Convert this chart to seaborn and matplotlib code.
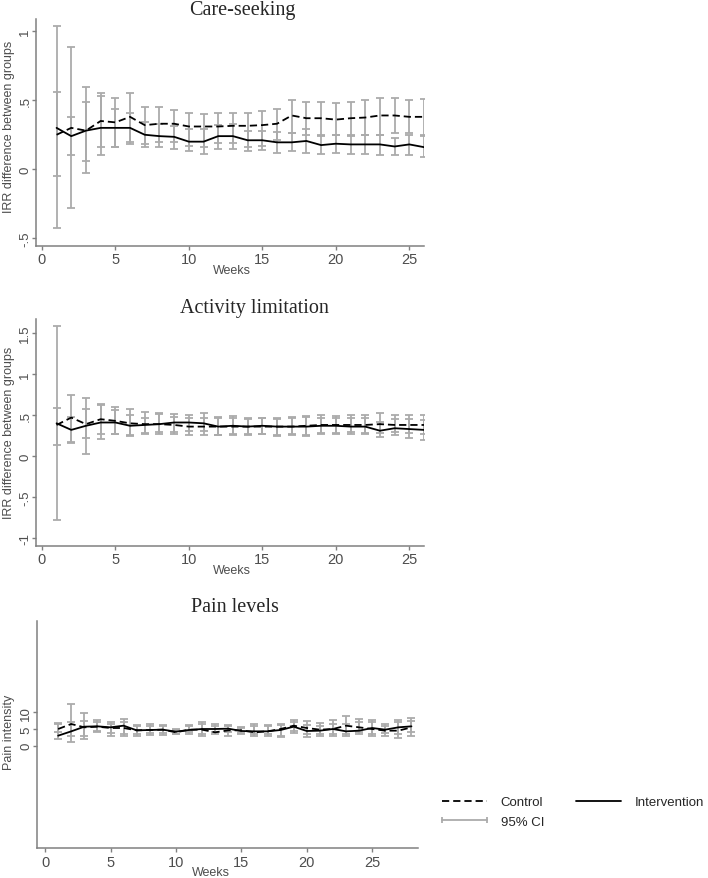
import numpy as np
import pandas as pd
import matplotlib
matplotlib.use("Agg")
import matplotlib.pyplot as plt
import seaborn as sns
from matplotlib.lines import Line2D

# ---------------- data ----------------
weeks26 = list(range(1, 27))
weeks28 = list(range(1, 29))

# Care-seeking
care_ctrl = [0.25, 0.30, 0.28, 0.35, 0.34, 0.38, 0.32, 0.33, 0.33, 0.31, 0.31, 0.31, 0.315,
             0.315, 0.32, 0.33, 0.39, 0.37, 0.37, 0.36, 0.37, 0.375, 0.39, 0.39, 0.38, 0.38]
care_ctrl_lo = [-0.43, -0.28, -0.03, 0.16, 0.16, 0.20, 0.18, 0.20, 0.20, 0.17, 0.16, 0.19, 0.19,
                0.16, 0.17, 0.21, 0.26, 0.25, 0.25, 0.25, 0.25, 0.25, 0.25, 0.26, 0.26, 0.25]
care_ctrl_hi = [1.04, 0.89, 0.60, 0.55, 0.52, 0.55, 0.45, 0.45, 0.43, 0.41, 0.40, 0.41, 0.41,
                0.41, 0.42, 0.44, 0.50, 0.49, 0.49, 0.48, 0.49, 0.50, 0.52, 0.52, 0.50, 0.51]
care_int = [0.30, 0.24, 0.28, 0.30, 0.30, 0.30, 0.25, 0.24, 0.235, 0.20, 0.20, 0.24, 0.24,
            0.21, 0.21, 0.195, 0.195, 0.205, 0.175, 0.185, 0.18, 0.18, 0.18, 0.165, 0.18, 0.16]
care_int_lo = [-0.05, 0.10, 0.06, 0.10, 0.16, 0.18, 0.16, 0.16, 0.15, 0.13, 0.11, 0.15, 0.15,
               0.13, 0.14, 0.12, 0.13, 0.12, 0.11, 0.12, 0.11, 0.11, 0.10, 0.10, 0.10, 0.09]
care_int_hi = [0.56, 0.38, 0.49, 0.53, 0.44, 0.41, 0.34, 0.33, 0.31, 0.29, 0.29, 0.32, 0.33,
               0.28, 0.28, 0.27, 0.26, 0.29, 0.24, 0.25, 0.24, 0.25, 0.25, 0.23, 0.25, 0.24]

# Activity limitation
act_ctrl = [0.38, 0.47, 0.39, 0.45, 0.43, 0.40, 0.39, 0.39, 0.38, 0.36, 0.36, 0.36, 0.36,
            0.36, 0.36, 0.36, 0.36, 0.37, 0.38, 0.38, 0.38, 0.38, 0.39, 0.38, 0.38, 0.38]
act_ctrl_lo = [-0.78, 0.17, 0.03, 0.21, 0.27, 0.25, 0.27, 0.27, 0.27, 0.26, 0.26, 0.26, 0.26,
               0.26, 0.27, 0.25, 0.26, 0.25, 0.27, 0.27, 0.27, 0.27, 0.28, 0.26, 0.28, 0.27]
act_ctrl_hi = [1.59, 0.75, 0.71, 0.63, 0.60, 0.57, 0.54, 0.52, 0.51, 0.50, 0.52, 0.48, 0.49,
               0.46, 0.46, 0.47, 0.48, 0.49, 0.50, 0.49, 0.50, 0.50, 0.52, 0.50, 0.50, 0.50]
act_int = [0.40, 0.32, 0.37, 0.41, 0.41, 0.37, 0.38, 0.39, 0.41, 0.41, 0.40, 0.36, 0.37,
           0.36, 0.37, 0.36, 0.36, 0.36, 0.37, 0.37, 0.36, 0.36, 0.31, 0.34, 0.33, 0.32]
act_int_lo = [0.14, 0.16, 0.22, 0.27, 0.27, 0.26, 0.28, 0.30, 0.30, 0.31, 0.31, 0.26, 0.27,
              0.27, 0.27, 0.26, 0.27, 0.26, 0.28, 0.28, 0.29, 0.28, 0.23, 0.29, 0.22, 0.20]
act_int_hi = [0.59, 0.48, 0.57, 0.62, 0.56, 0.50, 0.47, 0.51, 0.48, 0.47, 0.46, 0.47, 0.47,
              0.45, 0.46, 0.45, 0.46, 0.48, 0.47, 0.47, 0.46, 0.47, 0.41, 0.45, 0.45, 0.44]

# Pain levels
pain_ctrl = [5.0, 6.5, 5.5, 5.7, 5.3, 5.3, 4.6, 4.7, 4.8, 4.0, 4.8, 4.8, 4.0, 4.6,
             4.6, 4.0, 4.3, 5.0, 6.0, 5.3, 4.8, 5.0, 6.0, 5.5, 5.0, 4.5, 4.5, 5.5]
pain_ctrl_lo = [4.0, 1.0, 2.0, 4.2, 3.0, 3.0, 3.0, 3.3, 3.3, 3.4, 3.5, 3.0, 3.5, 3.0,
                3.5, 3.0, 3.0, 2.5, 3.8, 2.7, 3.0, 3.0, 3.0, 3.5, 2.8, 3.0, 2.3, 3.0]
pain_ctrl_hi = [6.8, 12.5, 9.8, 7.8, 7.2, 8.0, 6.3, 6.5, 6.2, 5.0, 6.3, 7.0, 6.5, 6.2,
                5.6, 6.6, 6.2, 6.6, 7.7, 7.5, 6.8, 7.8, 9.0, 8.0, 7.6, 6.5, 7.7, 8.2]
pain_int = [3.0, 4.3, 5.7, 5.8, 5.5, 6.0, 4.6, 4.7, 4.8, 4.2, 4.7, 5.0, 5.0, 5.1,
            4.4, 4.3, 4.3, 4.7, 5.7, 4.4, 4.5, 5.0, 4.3, 4.5, 5.3, 4.8, 5.5, 5.8]
pain_int_lo = [2.0, 3.0, 3.0, 4.5, 3.8, 3.5, 3.5, 3.8, 3.8, 3.6, 4.0, 3.5, 4.0, 4.0,
               3.8, 3.5, 3.5, 3.0, 4.5, 3.5, 3.5, 3.5, 3.5, 4.0, 3.5, 3.8, 3.5, 4.0]
pain_int_hi = [6.5, 7.0, 7.5, 7.2, 6.5, 7.0, 6.0, 6.0, 6.0, 4.8, 6.0, 6.5, 6.0, 6.0,
               5.4, 6.0, 5.8, 6.2, 7.0, 6.2, 6.0, 6.5, 6.5, 7.0, 7.0, 6.0, 7.0, 7.5]

GRAY = "#ababab"
AXC = "#808080"
TXT = "#4d4d4d"

sns.set_style("white")
plt.rcParams["font.family"] = ["Liberation Sans", "DejaVu Sans"]

fig = plt.figure(figsize=(7.08, 8.79), dpi=100)
W, H = 708.0, 879.0


def axes_px(l, r, b, t):
    return fig.add_axes([l / W, 1 - b / H, (r - l) / W, (b - t) / H])


def panel(ax, box, weeks, ctrl, clo, chi, intv, ilo, ihi, xlim, ylim, yticks, ylabels,
          ylabel, ylab_y, xlab_x, xlab_top):
    l, r, b, t = box
    w = np.array(weeks)
    for lo, hi in ((clo, chi), (ilo, ihi)):
        ax.vlines(w, lo, hi, color=GRAY, lw=1.3, zorder=1)
        ax.plot(w, lo, ls="none", marker="_", ms=6, mew=1.3, color=GRAY, zorder=1)
        ax.plot(w, hi, ls="none", marker="_", ms=6, mew=1.3, color=GRAY, zorder=1)
    df = pd.DataFrame({
        "week": np.concatenate([w, w]),
        "value": np.concatenate([ctrl, intv]),
        "group": ["Control"] * len(w) + ["Intervention"] * len(w),
    })
    sns.lineplot(data=df, x="week", y="value", style="group",
                 dashes={"Control": (4, 2.2), "Intervention": ""},
                 color="black", linewidth=1.3, legend=False, ax=ax, zorder=3)
    ax.set_xlim(*xlim)
    ax.set_ylim(*ylim)
    ax.set_xticks([0, 5, 10, 15, 20, 25])
    ax.set_xticklabels(["0", "5", "10", "15", "20", "25"])
    ax.set_yticks(yticks)
    ax.set_yticklabels(ylabels)
    for s in ("top", "right"):
        ax.spines[s].set_visible(False)
    for s in ("left", "bottom"):
        ax.spines[s].set_color(AXC)
        ax.spines[s].set_linewidth(1.1)
    ax.tick_params(axis="both", direction="out", length=3.2, width=1.0, color=AXC,
                   labelcolor=TXT, left=True, bottom=True)
    ax.tick_params(axis="x", pad=1.5, labelsize=10.5)
    ax.tick_params(axis="y", pad=2.3, labelsize=9.5)
    for lab in ax.get_yticklabels():
        lab.set_rotation(90)
        lab.set_rotation_mode("anchor")
        lab.set_ha("center")
        lab.set_va("baseline")
    ax.set_xlabel("Weeks", fontsize=9, color=TXT)
    ax.set_ylabel(ylabel, fontsize=9, color=TXT)
    ax.grid(False)
    # place labels in pixel terms
    ax.yaxis.set_label_coords((15 - l) / (r - l), (b - ylab_y) / (b - t))
    ax.xaxis.set_label_coords((xlab_x - l) / (r - l), (b - xlab_top) / (b - t))
    ax.xaxis.label.set_va("top")


box1 = (36, 424, 246.7, 20)
ax1 = axes_px(*box1)
panel(ax1, box1, weeks26, care_ctrl, care_ctrl_lo, care_ctrl_hi, care_int, care_int_lo, care_int_hi,
      (-0.4, 26), (-0.555, 1.09), [-0.5, 0, 0.5, 1], ["-.5", "0", ".5", "1"],
      "IRR difference between groups", 127, 232, 265)

box2 = (36, 424, 546.7, 320)
ax2 = axes_px(*box2)
panel(ax2, box2, weeks26, act_ctrl, act_ctrl_lo, act_ctrl_hi, act_int, act_int_lo, act_int_hi,
      (-0.4, 26), (-1.09, 1.67), [-1, -0.5, 0, 0.5, 1, 1.5],
      ["-1", "-.5", "0", ".5", "1", "1.5"], "IRR difference between groups", 433, 232, 565)

box3 = (36.7, 418, 849.3, 621.7)
ax3 = axes_px(*box3)
panel(ax3, box3, weeks28, pain_ctrl, pain_ctrl_lo, pain_ctrl_hi, pain_int, pain_int_lo, pain_int_hi,
      (-0.64, 28.5), (-30.8, 37.5), [0, 5, 10], ["0", "5", "10"], "Pain intensity",
      732, 211, 867)

serif = ["Liberation Serif", "DejaVu Serif"]
fig.text(242 / W, 1 - 11 / H, "Care-seeking", family=serif, fontsize=14.5, ha="center", va="center")
fig.text(254 / W, 1 - 309 / H, "Activity limitation", family=serif, fontsize=14.5, ha="center", va="center")
fig.text(235 / W, 1 - 608 / H, "Pain levels", family=serif, fontsize=14.5, ha="center", va="center")

h_ctrl = Line2D([], [], color="black", lw=1.3, dashes=(4, 2.2))
h_int = Line2D([], [], color="black", lw=1.3)
h_ci = Line2D([], [], color=GRAY, lw=1.3, marker="|", markersize=4, mew=1.3)
fig.legend([h_ctrl, h_ci, h_int], ["Control", "95% CI", "Intervention"], ncol=2,
           loc="upper left", bbox_to_anchor=(438 / W, 1 - 797 / H), frameon=False,
           fontsize=9.5, handlelength=4.0, handletextpad=0.75, columnspacing=2.1,
           numpoints=2, labelspacing=0.55, borderaxespad=0, borderpad=0)

fig.savefig("out.png", dpi=100)
